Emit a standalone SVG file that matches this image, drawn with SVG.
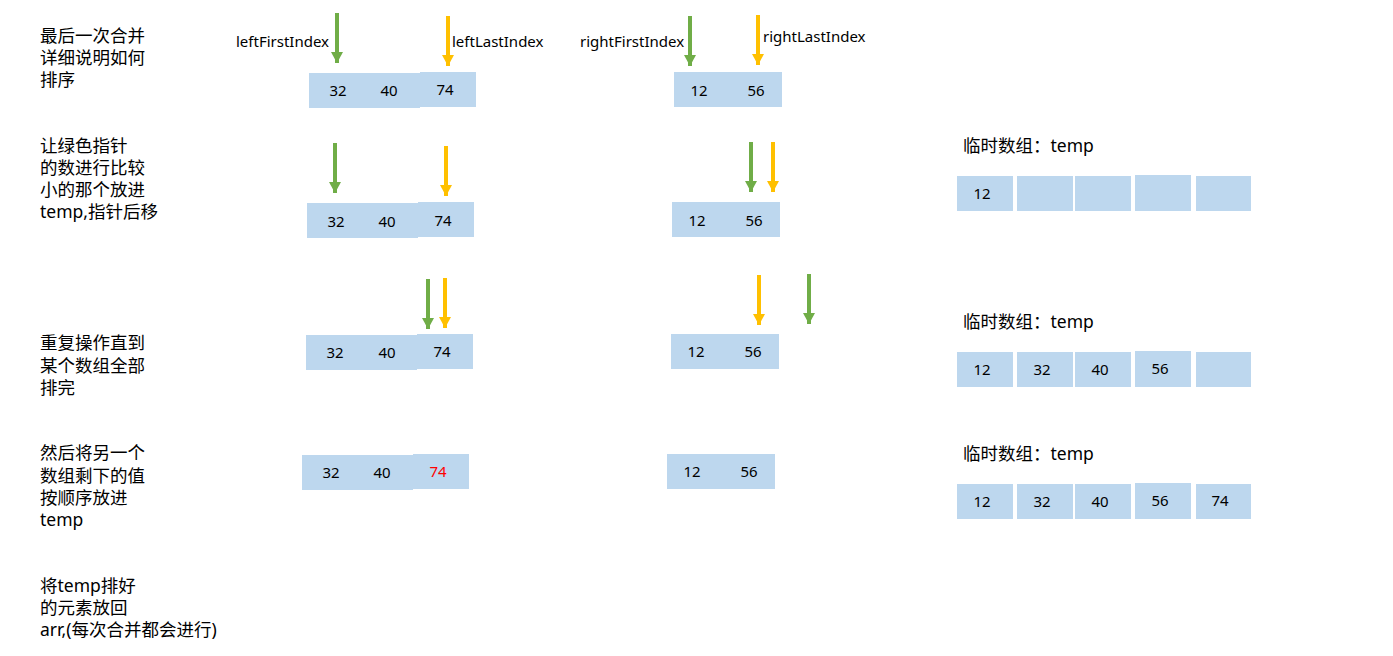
<svg xmlns="http://www.w3.org/2000/svg" width="1393" height="656" viewBox="0 0 1393 656">
<style>
.t{font-family:"Noto Sans","Noto Sans CJK SC",sans-serif;fill:#000}
.d{font-size:17.5px}
.n{font-size:15px;text-anchor:middle}
.l{font-size:15px}
.c{fill:#BDD7EE}
.g{stroke:#70AD47;stroke-width:4;marker-end:url(#ag)}
.y{stroke:#FFC000;stroke-width:4;marker-end:url(#ay)}
.r{fill:#FF0000}
</style>
<defs>
<marker id="ag" markerUnits="userSpaceOnUse" viewBox="0 -6 11 12" refX="11" refY="0" markerWidth="11" markerHeight="12" orient="auto"><path d="M0,-6L11,0L0,6z" fill="#70AD47"/></marker>
<marker id="ay" markerUnits="userSpaceOnUse" viewBox="0 -6 11 12" refX="11" refY="0" markerWidth="11" markerHeight="12" orient="auto"><path d="M0,-6L11,0L0,6z" fill="#FFC000"/></marker>
</defs>
<rect width="1393" height="656" fill="#fff"/>
<g id="descriptions" class="t d">
<text x="40" y="42">最后一次合并</text><text x="40" y="64">详细说明如何</text><text x="40" y="86">排序</text>
<text x="40" y="152">让绿色指针</text><text x="40" y="174">的数进行比较</text><text x="40" y="196">小的那个放进</text><text x="40" y="218">temp,指针后移</text>
<text x="40" y="349">重复操作直到</text><text x="40" y="372">某个数组全部</text><text x="40" y="394">排完</text>
<text x="40" y="459">然后将另一个</text><text x="40" y="482">数组剩下的值</text><text x="40" y="504">按顺序放进</text><text x="40" y="526">temp</text>
<text x="40" y="592">将temp排好</text><text x="40" y="614">的元素放回</text><text x="40" y="636">arr,(每次合并都会进行)</text>
</g>
<g id="labels" class="t l">
<text x="236" y="47">leftFirstIndex</text>
<text x="452" y="47">leftLastIndex</text>
<text x="580" y="47">rightFirstIndex</text>
<text x="763" y="42">rightLastIndex</text>
</g>
<g id="row1-left"><rect class="c" x="309" y="73" width="111" height="35"/><rect class="c" x="420" y="72" width="56" height="35"/>
<text class="t n" x="338" y="96">32</text><text class="t n" x="389" y="96">40</text><text class="t n" x="445" y="95">74</text></g>
<g id="row1-right"><rect class="c" x="674" y="72" width="108" height="35"/>
<text class="t n" x="699" y="96">12</text><text class="t n" x="756" y="96">56</text></g>
<g id="row2-left"><rect class="c" x="307" y="203" width="111" height="35"/><rect class="c" x="418" y="202" width="56" height="35"/>
<text class="t n" x="336" y="227">32</text><text class="t n" x="387" y="227">40</text><text class="t n" x="443" y="226">74</text></g>
<g id="row2-right"><rect class="c" x="672" y="202" width="108" height="35"/>
<text class="t n" x="697" y="226">12</text><text class="t n" x="754" y="226">56</text></g>
<g id="row3-left"><rect class="c" x="306" y="335" width="111" height="35"/><rect class="c" x="417" y="334" width="56" height="35"/>
<text class="t n" x="335" y="358">32</text><text class="t n" x="387" y="358">40</text><text class="t n" x="442" y="357">74</text></g>
<g id="row3-right"><rect class="c" x="671" y="334" width="108" height="35"/>
<text class="t n" x="696" y="357">12</text><text class="t n" x="753" y="357">56</text></g>
<g id="row4-left"><rect class="c" x="302" y="455" width="111" height="35"/><rect class="c" x="413" y="454" width="56" height="35"/>
<text class="t n" x="331" y="478">32</text><text class="t n" x="382" y="478">40</text><text class="t n r" x="438" y="477">74</text></g>
<g id="row4-right"><rect class="c" x="667" y="454" width="108" height="35"/>
<text class="t n" x="692" y="477">12</text><text class="t n" x="749" y="477">56</text></g>
<g id="temp-1">
<text class="t d" x="963" y="152">临时数组：temp</text>
<rect class="c" x="957" y="176" width="56" height="35"/><rect class="c" x="1017" y="176" width="56" height="35"/><rect class="c" x="1075" y="176" width="56" height="35"/><rect class="c" x="1135" y="175" width="56" height="36"/><rect class="c" x="1196" y="176" width="55" height="35"/>
<text class="t n" x="982" y="199">12</text>
</g>
<g id="temp-2">
<text class="t d" x="963" y="328">临时数组：temp</text>
<rect class="c" x="957" y="352" width="56" height="35"/><rect class="c" x="1017" y="352" width="56" height="35"/><rect class="c" x="1075" y="352" width="56" height="35"/><rect class="c" x="1135" y="351" width="56" height="36"/><rect class="c" x="1196" y="352" width="55" height="35"/>
<text class="t n" x="982" y="375">12</text><text class="t n" x="1042" y="375">32</text><text class="t n" x="1100" y="375">40</text><text class="t n" x="1160" y="374">56</text>
</g>
<g id="temp-3">
<text class="t d" x="963" y="460">临时数组：temp</text>
<rect class="c" x="957" y="484" width="56" height="35"/><rect class="c" x="1017" y="484" width="56" height="35"/><rect class="c" x="1075" y="484" width="56" height="35"/><rect class="c" x="1135" y="483" width="56" height="36"/><rect class="c" x="1196" y="484" width="55" height="35"/>
<text class="t n" x="982" y="507">12</text><text class="t n" x="1042" y="507">32</text><text class="t n" x="1100" y="507">40</text><text class="t n" x="1160" y="506">56</text><text class="t n" x="1220" y="506">74</text>
</g>
<g id="connectors">
<line class="g" x1="337" y1="13" x2="337" y2="63"/>
<line class="y" x1="448" y1="16" x2="448" y2="66"/>
<line class="g" x1="690" y1="16" x2="690" y2="66"/>
<line class="y" x1="758" y1="15" x2="758" y2="65"/>
<line class="g" x1="335" y1="143" x2="335" y2="193"/>
<line class="y" x1="446" y1="146" x2="446" y2="196"/>
<line class="g" x1="751" y1="142" x2="751" y2="192"/>
<line class="y" x1="773" y1="142" x2="773" y2="192"/>
<line class="g" x1="428" y1="279" x2="428" y2="329"/>
<line class="y" x1="445" y1="278" x2="445" y2="328"/>
<line class="y" x1="759" y1="275" x2="759" y2="325"/>
<line class="g" x1="809" y1="274" x2="809" y2="324"/>
</g>
</svg>
